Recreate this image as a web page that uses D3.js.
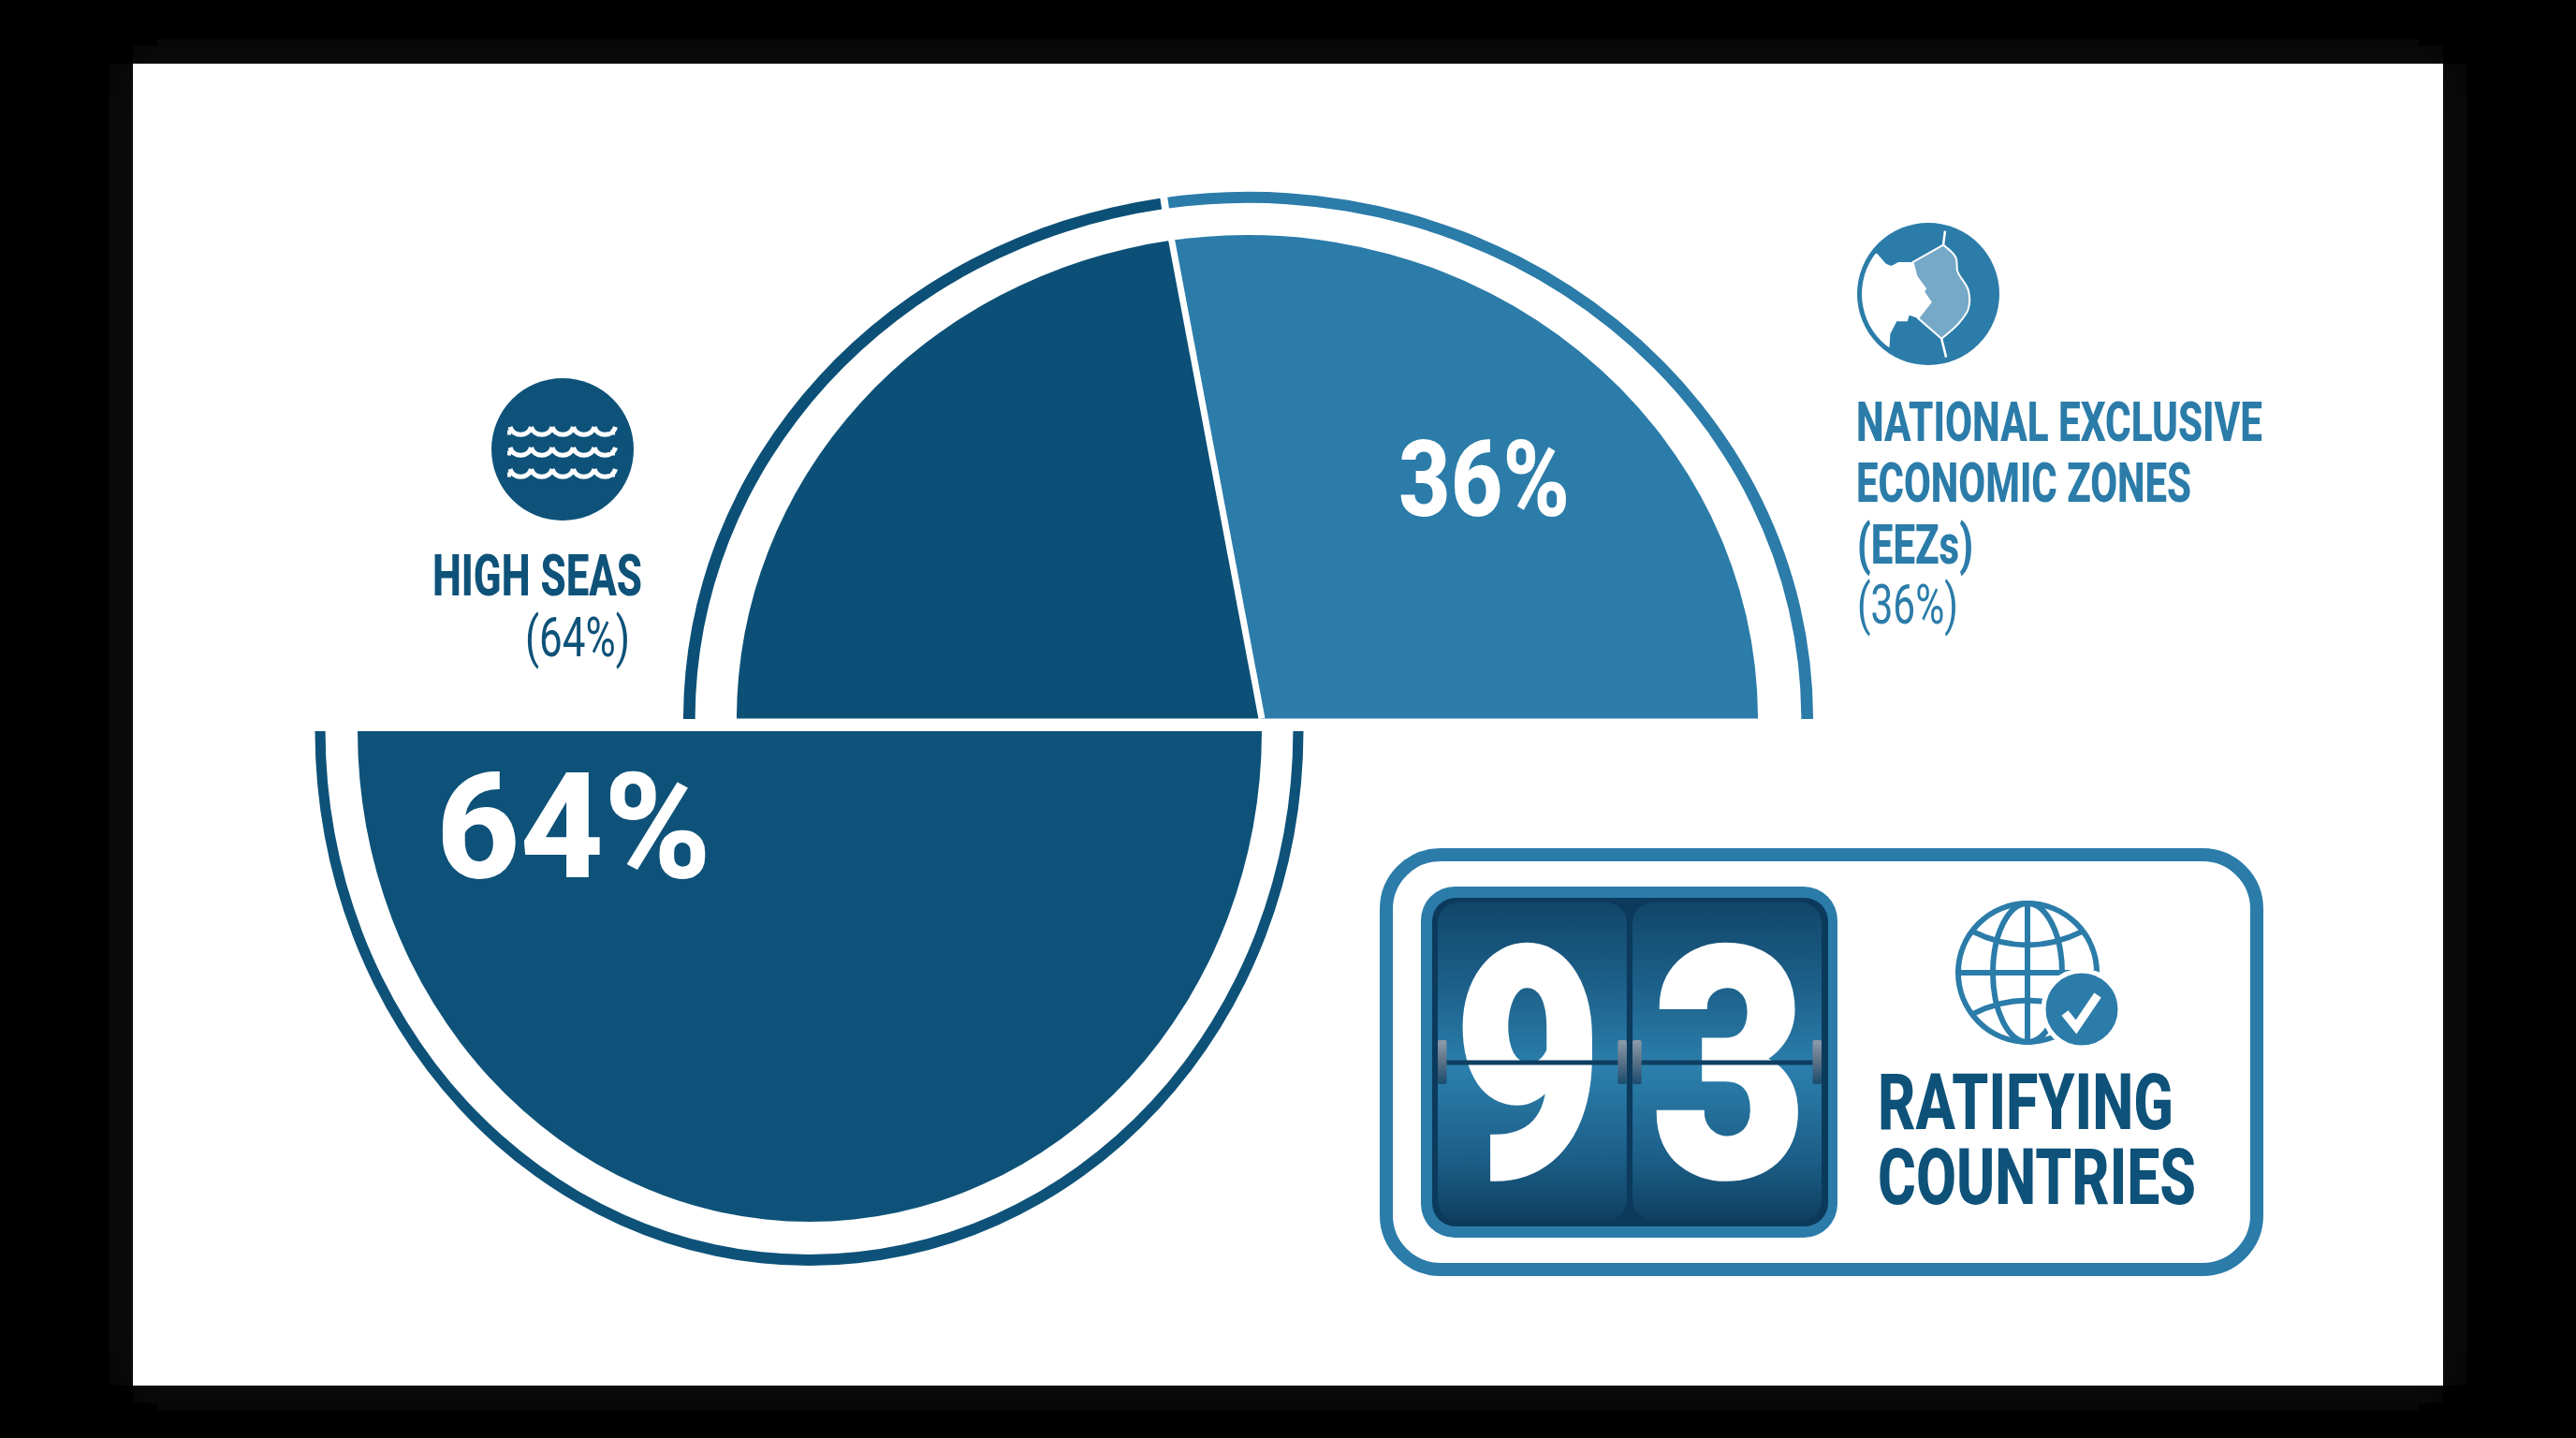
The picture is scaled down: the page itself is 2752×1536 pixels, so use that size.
<!DOCTYPE html>
<html lang="en"><head>
<meta charset="UTF-8">
<title>High seas and EEZs</title>
<script src="https://cdnjs.cloudflare.com/ajax/libs/d3/7.8.5/d3.min.js"></script>
<style>
html, body { margin: 0; padding: 0; background: #000; }
svg { display: block; }
text { font-family: Roboto, "Liberation Sans", sans-serif; }
</style>
</head>
<body>
<script>

var width = 2752;
var height = 1536;

var darkBlue = "#0e5279";
var midBlue = "#2b7ca9";
var zoneBlue = "#76a9c8";

// slices as drawn, clockwise from the left end of the top half (degrees)
var sliceNames = ["High Seas top", "EEZs", "High Seas bottom"];
var sliceSweeps = [81.4, 98.6, 180];
var sliceColors = ["#0c5077", midBlue, darkBlue];

// share labels
var shareLabels = ["64%", "36%"];
var ratifyingCount = ["9", "3"];

var svg = d3.select("body").append("svg")
  .attr("width", width)
  .attr("height", height);

var defs = svg.append("defs");

var cardGrad = defs.append("linearGradient")
  .attr("id", "cardGrad")
  .attr("x1", 0).attr("y1", 0).attr("x2", 0).attr("y2", 1);
[[0, "#12466a"], [0.25, "#1c5f88"], [0.52, "#2b7fac"], [0.8, "#1c5f88"], [1, "#0f3f60"]].forEach(function(s){
  cardGrad.append("stop").attr("offset", s[0]).attr("stop-color", s[1]);
});

var hingeGrad = defs.append("linearGradient")
  .attr("id", "hingeGrad")
  .attr("x1", 0).attr("y1", 0).attr("x2", 0).attr("y2", 1);
[[0, "#8c9bab"], [0.45, "#5f7589"], [1, "#1a4c6e"]].forEach(function(s){
  hingeGrad.append("stop").attr("offset", s[0]).attr("stop-color", s[1]);
});

defs.append("filter")
  .attr("id", "glow")
  .attr("x", "-10%").attr("y", "-10%").attr("width", "120%").attr("height", "120%")
  .append("feGaussianBlur")
  .attr("stdDeviation", 28);

// faint grey glow behind the white sheet
svg.append("rect")
  .attr("x", 142).attr("y", 68)
  .attr("width", 2468).attr("height", 1412)
  .attr("fill", "#1e1e1e")
  .attr("filter", "url(#glow)");

svg.append("rect")
  .attr("x", 142).attr("y", 68)
  .attr("width", 2468).attr("height", 1412)
  .attr("fill", "#fff");

// pie layout: the whole circle starts at 9 o'clock
var pie = d3.pie()
  .value(function(d){ return d; })
  .sort(null)
  .startAngle(-Math.PI / 2)
  .endAngle(Math.PI * 1.5);
var slices = pie(sliceSweeps);

var ringArc = d3.arc().innerRadius(0.979).outerRadius(1);
var ringGap = 0.007;

// one ellipse pair for the top half, one for the bottom half
var topRing = {cx: 1333.5, cy: 768, rx: 603.5, ry: 563};
var topFill = {cx: 1332.5, cy: 767.5, rx: 545.5, ry: 516.5, tip: 15.5};
var bottomRing = {cx: 864.5, cy: 781, rx: 528, ry: 571};
var bottomFill = {cx: 865, cy: 781, rx: 483, ry: 524, tip: 0};

function ellipseGroup(e){
  return svg.append("g")
    .attr("transform", "translate(" + e.cx + "," + e.cy + ") scale(" + e.rx + "," + e.ry + ")");
}

function ringPiece(e, s, i){
  ellipseGroup(e).append("path")
    .attr("d", ringArc({
      startAngle: s.startAngle + (i == 1 ? ringGap : 0),
      endAngle: s.endAngle - (i == 0 ? ringGap : 0)
    }))
    .attr("fill", sliceColors[i]);
}

// the two top wedges meet off-centre, so each path goes round the ellipse and back to the tip
function fillPiece(e, s, i){
  var p = d3.path();
  p.moveTo(e.tip / e.rx, 0);
  p.arc(0, 0, 1, s.startAngle - Math.PI / 2, s.endAngle - Math.PI / 2);
  p.closePath();
  ellipseGroup(e).append("path")
    .attr("d", p.toString())
    .attr("fill", sliceColors[i]);
}

slices.forEach(function(s, i){
  if(i < 2){
    ringPiece(topRing, s, i);
    fillPiece(topFill, s, i);
  }
  else{
    ringPiece(bottomRing, s, i);
    fillPiece(bottomFill, s, i);
  }
});

// white divider between the two top wedges
var divAngle = slices[0].endAngle;
svg.append("line")
  .attr("x1", topFill.cx + topFill.tip)
  .attr("y1", topFill.cy)
  .attr("x2", topFill.cx + Math.sin(divAngle) * topFill.rx)
  .attr("y2", topFill.cy - Math.cos(divAngle) * topFill.ry - 4)
  .attr("stroke", "#fff")
  .attr("stroke-width", 7);

function label(txt, x, y, w, size, weight, color){
  return svg.append("text")
    .attr("x", x).attr("y", y)
    .attr("textLength", w)
    .attr("lengthAdjust", "spacingAndGlyphs")
    .attr("font-size", size)
    .attr("font-weight", weight)
    .attr("fill", color)
    .text(txt);
}

label(shareLabels[0], 466, 937, 294, 157, 800, "#fff");
label(shareLabels[1], 1494, 551, 183, 113, 800, "#fff");

// high seas icon
svg.append("circle").attr("cx", 601).attr("cy", 480).attr("r", 76).attr("fill", darkBlue);
[458, 480, 503].forEach(function(y){
  var p = d3.path();
  p.moveTo(542, y + 4);
  p.lineTo(546, y + 4);
  for(var k = 0; k < 5; k++){
    var x0 = 545 + k * 22.5;
    p.moveTo(x0, y - 2);
    p.bezierCurveTo(x0 + 3, y + 9, x0 + 19.5, y + 9, x0 + 22.5, y - 2);
  }
  p.moveTo(652, y + 4);
  p.lineTo(657, y + 4);
  svg.append("path")
    .attr("d", p.toString())
    .attr("fill", "none")
    .attr("stroke", "#fff")
    .attr("stroke-width", 5);
});

label("HIGH SEAS", 462, 636, 224, 62, 800, darkBlue);
label("(64%)", 561, 701, 112, 59, 400, darkBlue);

// EEZ icon: outlines traced in the zoomed crop, so convert back to page pixels
function eez(pts){
  return pts.map(function(q){ return [1900 + q[0] / 2.613, 200 + q[1] / 3]; });
}
var lineGen = d3.line();
defs.append("clipPath").attr("id", "eezClip")
  .append("circle").attr("cx", 2060).attr("cy", 314).attr("r", 71);
svg.append("circle").attr("cx", 2060).attr("cy", 314).attr("r", 76).attr("fill", midBlue);
svg.append("path")
  .attr("clip-path", "url(#eezClip)")
  .attr("fill", "#fff")
  .attr("d", lineGen(eez([[275,212],[300,245],[315,252],[335,240],[375,240],[385,285],[410,325],[405,335],[425,368],[390,420],[365,410],[360,430],[330,430],[312,470],[310,512],[150,512],[150,212]])) + "Z");
svg.append("path")
  .attr("fill", zoneBlue)
  .attr("stroke", "#fff")
  .attr("stroke-width", 2)
  .attr("d", d3.line().curve(d3.curveCatmullRom)(eez([[460,185],[495,225],[500,270],[530,330],[530,390],[500,440],[455,485]])) + "L" + lineGen(eez([[390,420],[425,368],[405,335],[410,325],[385,285],[375,240],[460,185]])).slice(1));
svg.append("path")
  .attr("fill", "none")
  .attr("stroke", "#fff")
  .attr("stroke-width", 2.5)
  .attr("d", lineGen(eez([[460,185],[465,140]])) + lineGen(eez([[455,485],[468,545]])));

label("NATIONAL EXCLUSIVE", 1983, 471, 434, 60, 800, midBlue);
label("ECONOMIC ZONES", 1983, 536, 358, 60, 800, midBlue);
label("(EEZs)", 1984, 602, 124, 60, 800, midBlue);
label("(36%)", 1984, 666, 108, 60, 400, midBlue);

// ratifying countries box
svg.append("rect")
  .attr("x", 1481).attr("y", 913)
  .attr("width", 930).attr("height", 443)
  .attr("rx", 58)
  .attr("fill", "#fff")
  .attr("stroke", midBlue)
  .attr("stroke-width", 14);

svg.append("rect")
  .attr("x", 1518).attr("y", 947)
  .attr("width", 445).attr("height", 375)
  .attr("rx", 36)
  .attr("fill", midBlue);
svg.append("rect")
  .attr("x", 1530).attr("y", 959)
  .attr("width", 423).attr("height", 351)
  .attr("rx", 25)
  .attr("fill", "#0c3a5c");

var cardX = d3.scaleBand().domain(ratifyingCount.map(function(d, i){ return i; })).range([1536, 1946]).paddingInner(0.03);

ratifyingCount.forEach(function(d, i){
  var x = cardX(i);
  var w = cardX.bandwidth();
  svg.append("rect")
    .attr("x", x).attr("y", 964)
    .attr("width", w).attr("height", 340)
    .attr("rx", 22)
    .attr("fill", "url(#cardGrad)");
  // the digits are much heavier than any installed weight, hence the stroke
  label(d, x + (i == 0 ? 18 : 21), 1256, i == 0 ? 157 : 165, 342, 900, "#fff")
    .attr("stroke", "#fff")
    .attr("stroke-width", 5);
  svg.append("rect")
    .attr("x", x + 8).attr("y", 1132.5)
    .attr("width", w - 16).attr("height", 5)
    .attr("fill", "#0e3f60");
  [x, x + w - 9.5].forEach(function(hx){
    svg.append("rect")
      .attr("x", hx).attr("y", 1111)
      .attr("width", 9.5).attr("height", 47)
      .attr("rx", 2)
      .attr("fill", "url(#hingeGrad)");
  });
});

// globe with check badge
var gx = 2166, gy = 1039, gr = 74;
var globe = svg.append("g")
  .attr("fill", "none")
  .attr("stroke", midBlue)
  .attr("stroke-width", 6);
globe.append("circle").attr("cx", gx).attr("cy", gy).attr("r", gr);
globe.append("ellipse").attr("cx", gx).attr("cy", gy).attr("rx", gr * 0.5).attr("ry", gr);
globe.append("line").attr("x1", gx).attr("y1", gy - gr).attr("x2", gx).attr("y2", gy + gr);
globe.append("line").attr("x1", gx - gr).attr("y1", gy).attr("x2", gx + gr).attr("y2", gy);
globe.append("path")
  .attr("d", "M" + (gx - gr * 0.8) + "," + (gy - gr * 0.6) + "Q" + gx + "," + (gy - gr * 0.2) + " " + (gx + gr * 0.8) + "," + (gy - gr * 0.6));
globe.append("path")
  .attr("d", "M" + (gx - gr * 0.8) + "," + (gy + gr * 0.6) + "Q" + gx + "," + (gy + gr * 0.2) + " " + (gx + gr * 0.8) + "," + (gy + gr * 0.6));

svg.append("circle")
  .attr("cx", 2224).attr("cy", 1078).attr("r", 41)
  .attr("fill", midBlue)
  .attr("stroke", "#fff")
  .attr("stroke-width", 5);
svg.append("path")
  .attr("d", lineGen([[2206, 1082], [2218, 1097], [2241, 1063]]))
  .attr("fill", "none")
  .attr("stroke", "#fff")
  .attr("stroke-width", 9);

label("RATIFYING", 2006, 1206, 316, 83, 800, darkBlue);
label("COUNTRIES", 2006, 1286, 340, 83, 800, darkBlue);

</script>
</body></html>
